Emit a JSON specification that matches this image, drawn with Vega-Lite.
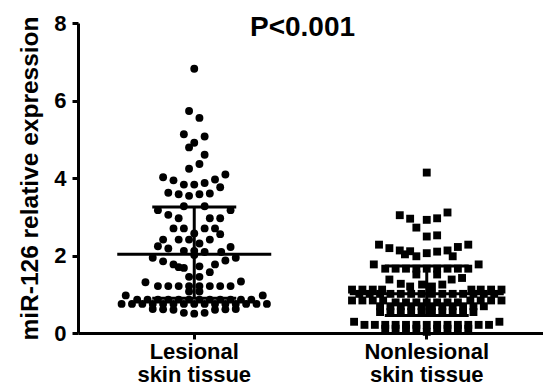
{
  "$schema": "https://vega.github.io/schema/vega-lite/v6.json",
  "width": 465,
  "height": 310,
  "autosize": "none",
  "padding": {"left": 78, "top": 23, "right": 0, "bottom": 59},
  "background": "white",
  "config": {"font": "Liberation Sans", "view": {"stroke": null}},
  "title": {"text": "P<0.001", "fontSize": 28, "fontWeight": "bold", "color": "black", "frame": "group", "anchor": "middle", "baseline": "alphabetic", "offset": -19, "dx": -8, "dy": 33},
  "datasets": {
    "points": [
      {"g":"Lesional","v":6.82,"o":0},{"g":"Lesional","v":5.73,"o":-0.5},{"g":"Lesional","v":5.55,"o":0.5},{"g":"Lesional","v":5.13,"o":-1},{"g":"Lesional","v":5.07,"o":1},
      {"g":"Lesional","v":4.91,"o":0},{"g":"Lesional","v":4.79,"o":-0.5},{"g":"Lesional","v":4.6,"o":1},{"g":"Lesional","v":4.36,"o":0.5},{"g":"Lesional","v":4.24,"o":-0.5},
      {"g":"Lesional","v":4.02,"o":-3},{"g":"Lesional","v":3.94,"o":-2},{"g":"Lesional","v":3.83,"o":-1},{"g":"Lesional","v":3.83,"o":0},{"g":"Lesional","v":3.87,"o":1},
      {"g":"Lesional","v":3.96,"o":2},{"g":"Lesional","v":4.09,"o":3},{"g":"Lesional","v":3.76,"o":2.5},{"g":"Lesional","v":3.62,"o":-2.5},{"g":"Lesional","v":3.58,"o":-1.5},
      {"g":"Lesional","v":3.54,"o":-0.5},{"g":"Lesional","v":3.58,"o":0.5},{"g":"Lesional","v":3.6,"o":1.5},
      {"g":"Lesional","v":3.27,"o":-1},{"g":"Lesional","v":3.27,"o":1},{"g":"Lesional","v":3.17,"o":-3.5},{"g":"Lesional","v":3.17,"o":3.5},{"g":"Lesional","v":3.05,"o":-2.5},
      {"g":"Lesional","v":2.96,"o":-1.5},{"g":"Lesional","v":2.96,"o":1.5},{"g":"Lesional","v":2.96,"o":2.5},
      {"g":"Lesional","v":2.7,"o":-2},{"g":"Lesional","v":2.7,"o":-1},{"g":"Lesional","v":2.7,"o":1},{"g":"Lesional","v":2.7,"o":2},
      {"g":"Lesional","v":2.57,"o":0},{"g":"Lesional","v":2.55,"o":2.5},
      {"g":"Lesional","v":2.41,"o":-3},{"g":"Lesional","v":2.41,"o":-1.5},{"g":"Lesional","v":2.41,"o":-0.5},{"g":"Lesional","v":2.41,"o":1.5},{"g":"Lesional","v":2.31,"o":0.5},
      {"g":"Lesional","v":2.24,"o":-3.5},{"g":"Lesional","v":2.22,"o":3.5},{"g":"Lesional","v":2.18,"o":-2.5},{"g":"Lesional","v":2.12,"o":-1},{"g":"Lesional","v":2.12,"o":0},
      {"g":"Lesional","v":2.09,"o":1},{"g":"Lesional","v":2.09,"o":2.6},{"g":"Lesional","v":2.01,"o":0},
      {"g":"Lesional","v":1.94,"o":-4},{"g":"Lesional","v":1.94,"o":4},{"g":"Lesional","v":1.85,"o":-3},{"g":"Lesional","v":1.87,"o":3},
      {"g":"Lesional","v":1.77,"o":-2},{"g":"Lesional","v":1.77,"o":2},{"g":"Lesional","v":1.7,"o":-1.5},{"g":"Lesional","v":1.68,"o":-1},{"g":"Lesional","v":1.72,"o":0.5},
      {"g":"Lesional","v":1.57,"o":1.5},{"g":"Lesional","v":1.45,"o":-0.5},{"g":"Lesional","v":1.45,"o":0.5},
      {"g":"Lesional","v":1.31,"o":-4.7},{"g":"Lesional","v":1.33,"o":4.5},
      {"g":"Lesional","v":1.21,"o":-3.5},{"g":"Lesional","v":1.21,"o":-2.5},{"g":"Lesional","v":1.21,"o":-1.5},{"g":"Lesional","v":1.21,"o":-0.5},
      {"g":"Lesional","v":1.21,"o":0.5},{"g":"Lesional","v":1.21,"o":1.5},{"g":"Lesional","v":1.21,"o":2.5},{"g":"Lesional","v":1.21,"o":3.5},
      {"g":"Lesional","v":1.07,"o":-0.5},{"g":"Lesional","v":1.07,"o":0.5},
      {"g":"Lesional","v":0.97,"o":-6.6},{"g":"Lesional","v":0.97,"o":6.6},
      {"g":"Lesional","v":0.86,"o":-5.5},{"g":"Lesional","v":0.86,"o":-4.5},{"g":"Lesional","v":0.86,"o":-3.5},{"g":"Lesional","v":0.86,"o":-2.5},
      {"g":"Lesional","v":0.86,"o":-1.5},{"g":"Lesional","v":0.86,"o":-0.5},{"g":"Lesional","v":0.86,"o":0.5},{"g":"Lesional","v":0.86,"o":1.5},
      {"g":"Lesional","v":0.86,"o":2.5},{"g":"Lesional","v":0.86,"o":3.5},{"g":"Lesional","v":0.86,"o":4.5},{"g":"Lesional","v":0.86,"o":5.5},
      {"g":"Lesional","v":0.75,"o":-7},{"g":"Lesional","v":0.75,"o":-6},{"g":"Lesional","v":0.75,"o":-5},{"g":"Lesional","v":0.75,"o":-4},
      {"g":"Lesional","v":0.75,"o":-3},{"g":"Lesional","v":0.75,"o":-2},{"g":"Lesional","v":0.75,"o":-1},{"g":"Lesional","v":0.75,"o":0},
      {"g":"Lesional","v":0.75,"o":1},{"g":"Lesional","v":0.75,"o":2},{"g":"Lesional","v":0.75,"o":3},{"g":"Lesional","v":0.75,"o":4},
      {"g":"Lesional","v":0.75,"o":5},{"g":"Lesional","v":0.75,"o":6},{"g":"Lesional","v":0.75,"o":7},
      {"g":"Lesional","v":0.62,"o":-4},{"g":"Lesional","v":0.61,"o":-3},{"g":"Lesional","v":0.6,"o":-2},{"g":"Lesional","v":0.6,"o":2},
      {"g":"Lesional","v":0.61,"o":3},{"g":"Lesional","v":0.62,"o":4},
      {"g":"Lesional","v":0.52,"o":-1},{"g":"Lesional","v":0.5,"o":0},{"g":"Lesional","v":0.52,"o":1},

      {"g":"Nonlesional","v":4.14,"o":0},
      {"g":"Nonlesional","v":3.11,"o":2},{"g":"Nonlesional","v":3.04,"o":-2.6},{"g":"Nonlesional","v":2.95,"o":-1.6},{"g":"Nonlesional","v":2.96,"o":1},{"g":"Nonlesional","v":2.92,"o":0},
      {"g":"Nonlesional","v":2.72,"o":-1},{"g":"Nonlesional","v":2.52,"o":1},{"g":"Nonlesional","v":2.49,"o":0},
      {"g":"Nonlesional","v":2.28,"o":-4.6},{"g":"Nonlesional","v":2.28,"o":4},{"g":"Nonlesional","v":2.22,"o":3},{"g":"Nonlesional","v":2.19,"o":-3.6},
      {"g":"Nonlesional","v":2.13,"o":-2.6},{"g":"Nonlesional","v":2.13,"o":2},{"g":"Nonlesional","v":2.1,"o":1},{"g":"Nonlesional","v":2.11,"o":-1.6},
      {"g":"Nonlesional","v":2.06,"o":0},{"g":"Nonlesional","v":2.03,"o":-2.1},{"g":"Nonlesional","v":1.98,"o":-1},{"g":"Nonlesional","v":1.98,"o":2.5},
      {"g":"Nonlesional","v":1.77,"o":-5.1},{"g":"Nonlesional","v":1.77,"o":5},
      {"g":"Nonlesional","v":1.66,"o":-4},{"g":"Nonlesional","v":1.66,"o":-3},{"g":"Nonlesional","v":1.66,"o":-2},{"g":"Nonlesional","v":1.66,"o":-1},
      {"g":"Nonlesional","v":1.66,"o":0},{"g":"Nonlesional","v":1.66,"o":1},{"g":"Nonlesional","v":1.66,"o":2},{"g":"Nonlesional","v":1.66,"o":3},{"g":"Nonlesional","v":1.66,"o":4},
      {"g":"Nonlesional","v":1.51,"o":-1},{"g":"Nonlesional","v":1.51,"o":1},
      {"g":"Nonlesional","v":1.38,"o":-3.6},{"g":"Nonlesional","v":1.38,"o":2.4},{"g":"Nonlesional","v":1.42,"o":3.4},{"g":"Nonlesional","v":1.27,"o":-2.5},
      {"g":"Nonlesional","v":1.2,"o":-1.6},{"g":"Nonlesional","v":1.2,"o":0.5},{"g":"Nonlesional","v":1.25,"o":-0.45},{"g":"Nonlesional","v":1.25,"o":1.5},
      {"g":"Nonlesional","v":1.12,"o":-7.2},{"g":"Nonlesional","v":1.12,"o":-6.2},{"g":"Nonlesional","v":1.12,"o":-5.2},{"g":"Nonlesional","v":1.12,"o":-4.3},
      {"g":"Nonlesional","v":1.12,"o":4.3},{"g":"Nonlesional","v":1.12,"o":5.2},{"g":"Nonlesional","v":1.12,"o":6.2},{"g":"Nonlesional","v":1.12,"o":7.2},
      {"g":"Nonlesional","v":1.01,"o":-6.5},{"g":"Nonlesional","v":1.01,"o":-5.5},{"g":"Nonlesional","v":1.01,"o":-4.5},{"g":"Nonlesional","v":1.01,"o":-3.5},
      {"g":"Nonlesional","v":1.01,"o":-2.5},{"g":"Nonlesional","v":1.01,"o":-1.5},{"g":"Nonlesional","v":1.01,"o":-0.5},{"g":"Nonlesional","v":1.01,"o":0.5},
      {"g":"Nonlesional","v":1.01,"o":1.5},{"g":"Nonlesional","v":1.01,"o":2.5},{"g":"Nonlesional","v":1.01,"o":3.5},{"g":"Nonlesional","v":1.01,"o":4.5},
      {"g":"Nonlesional","v":1.01,"o":5.5},{"g":"Nonlesional","v":1.01,"o":6.5},
      {"g":"Nonlesional","v":0.84,"o":-7.2},{"g":"Nonlesional","v":0.84,"o":-6.2},{"g":"Nonlesional","v":0.84,"o":-5.2},{"g":"Nonlesional","v":0.84,"o":-4.2},
      {"g":"Nonlesional","v":0.84,"o":4.2},{"g":"Nonlesional","v":0.84,"o":5.2},{"g":"Nonlesional","v":0.84,"o":6.2},{"g":"Nonlesional","v":0.84,"o":7.2},
      {"g":"Nonlesional","v":0.79,"o":-3},{"g":"Nonlesional","v":0.79,"o":-2},{"g":"Nonlesional","v":0.79,"o":-1},{"g":"Nonlesional","v":0.79,"o":0},
      {"g":"Nonlesional","v":0.79,"o":1},{"g":"Nonlesional","v":0.79,"o":2},{"g":"Nonlesional","v":0.79,"o":3},
      {"g":"Nonlesional","v":0.69,"o":-4.5},{"g":"Nonlesional","v":0.69,"o":-3.5},{"g":"Nonlesional","v":0.69,"o":-2.5},{"g":"Nonlesional","v":0.69,"o":-1.5},
      {"g":"Nonlesional","v":0.69,"o":-0.5},{"g":"Nonlesional","v":0.69,"o":0.5},{"g":"Nonlesional","v":0.69,"o":1.5},{"g":"Nonlesional","v":0.69,"o":2.5},
      {"g":"Nonlesional","v":0.69,"o":3.5},{"g":"Nonlesional","v":0.69,"o":4.5},{"g":"Nonlesional","v":0.69,"o":5.5},
      {"g":"Nonlesional","v":0.54,"o":-4.5},{"g":"Nonlesional","v":0.54,"o":-3.5},{"g":"Nonlesional","v":0.54,"o":-2.5},{"g":"Nonlesional","v":0.54,"o":-1.5},
      {"g":"Nonlesional","v":0.54,"o":-0.5},{"g":"Nonlesional","v":0.54,"o":0.5},{"g":"Nonlesional","v":0.54,"o":1.5},{"g":"Nonlesional","v":0.54,"o":2.5},
      {"g":"Nonlesional","v":0.54,"o":3.5},{"g":"Nonlesional","v":0.54,"o":4.5},
      {"g":"Nonlesional","v":0.29,"o":-7},{"g":"Nonlesional","v":0.29,"o":7},
      {"g":"Nonlesional","v":0.21,"o":-6},{"g":"Nonlesional","v":0.21,"o":-5},{"g":"Nonlesional","v":0.21,"o":-4},{"g":"Nonlesional","v":0.21,"o":-3},
      {"g":"Nonlesional","v":0.21,"o":-2},{"g":"Nonlesional","v":0.21,"o":-1},{"g":"Nonlesional","v":0.21,"o":0},{"g":"Nonlesional","v":0.21,"o":1},
      {"g":"Nonlesional","v":0.21,"o":2},{"g":"Nonlesional","v":0.21,"o":3},{"g":"Nonlesional","v":0.21,"o":4},{"g":"Nonlesional","v":0.21,"o":5},{"g":"Nonlesional","v":0.21,"o":6},
      {"g":"Nonlesional","v":0.11,"o":-4},{"g":"Nonlesional","v":0.11,"o":-3},{"g":"Nonlesional","v":0.11,"o":-2},{"g":"Nonlesional","v":0.11,"o":-1},
      {"g":"Nonlesional","v":0.11,"o":1},{"g":"Nonlesional","v":0.11,"o":2},{"g":"Nonlesional","v":0.11,"o":3},{"g":"Nonlesional","v":0.11,"o":4},
      {"g":"Nonlesional","v":0.03,"o":0}
    ],
    "stats": [
      {"g": "Lesional", "mean": 2.03, "lo": 0.9, "hi": 3.25},
      {"g": "Nonlesional", "mean": 1.01, "lo": 0.45, "hi": 1.73}
    ]
  },
  "encoding": {
    "x": {
      "field": "g", "type": "nominal", "sort": ["Lesional", "Nonlesional"],
      "scale": {"type": "band", "paddingInner": 0, "paddingOuter": 0},
      "axis": {"title": null, "domainColor": "black", "domainWidth": 3, "tickColor": "black", "tickWidth": 3, "tickSize": 6,
               "labelFontSize": 22, "labelFontWeight": "bold", "labelColor": "black", "labelAngle": 0, "labelPadding": 2, "labelLineHeight": 23,
               "labelExpr": "[datum.label, 'skin tissue']"}
    }
  },
  "layer": [
    {
      "data": {"name": "points"},
      "mark": {"type": "point", "filled": true, "opacity": 1, "color": "black", "size": 62},
      "encoding": {
        "y": {"field": "v", "type": "quantitative", "title": "miR-126 relative expression",
              "scale": {"domain": [0, 8], "nice": false},
              "axis": {"values": [0, 2, 4, 6, 8], "grid": false, "domainColor": "black", "domainWidth": 3, "tickColor": "black", "tickWidth": 3, "tickSize": 6,
                       "labelFontSize": 22, "labelFontWeight": "bold", "labelColor": "black", "labelPadding": 6,
                       "titleFontSize": 24.5, "titleFontWeight": "bold", "titleColor": "black", "titlePadding": 11}},
        "xOffset": {"field": "o", "type": "quantitative", "scale": {"domain": [-11.2, 11.2], "nice": false, "zero": false}},
        "shape": {"field": "g", "type": "nominal", "scale": {"domain": ["Lesional", "Nonlesional"], "range": ["circle", "square"]}, "legend": null}
      }
    },
    {
      "data": {"name": "stats"},
      "mark": {"type": "tick", "color": "black", "opacity": 1, "size": 154, "thickness": 3},
      "encoding": {"y": {"field": "mean", "type": "quantitative", "title": "miR-126 relative expression"}}
    },
    {
      "data": {"name": "stats"},
      "mark": {"type": "tick", "color": "black", "opacity": 1, "size": 84, "thickness": 3},
      "encoding": {"y": {"field": "lo", "type": "quantitative", "title": "miR-126 relative expression"}}
    },
    {
      "data": {"name": "stats"},
      "mark": {"type": "tick", "color": "black", "opacity": 1, "size": 84, "thickness": 3},
      "encoding": {"y": {"field": "hi", "type": "quantitative", "title": "miR-126 relative expression"}}
    },
    {
      "data": {"name": "stats"},
      "mark": {"type": "rule", "color": "black", "strokeWidth": 3},
      "encoding": {"y": {"field": "lo", "type": "quantitative", "title": "miR-126 relative expression"}, "y2": {"field": "hi"}}
    }
  ]
}
